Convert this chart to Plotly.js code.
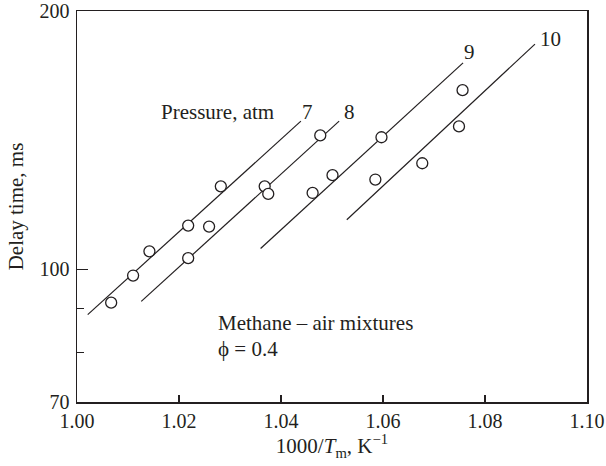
<!DOCTYPE html>
<html>
<head>
<meta charset="utf-8">
<script src="https://cdn.plot.ly/plotly-3.0.1.min.js"></script>
<style>html,body{margin:0;padding:0;background:#fff;}#chart{width:606px;height:466px;}</style>
</head>
<body>
<div id="chart"></div>
<script>
// Measured data points (1000/Tm, delay time ms)
const pointX = [1.0067, 1.0110, 1.0142, 1.0218, 1.0218, 1.0259, 1.0282, 1.0368, 1.0375, 1.0477, 1.0462, 1.0501, 1.0597, 1.0585, 1.0677, 1.0749, 1.0756];
const pointY = [91.4, 98.3, 104.9, 112.4, 103.0, 112.1, 124.9, 124.9, 122.4, 143.2, 122.7, 128.7, 142.5, 127.2, 132.9, 146.7, 161.7];

// Correlation lines for each pressure (atm)
const pressures = ['7', '8', '9', '10'];
const line7X = [1.0021, 1.0439];  const line7Y = [88.5, 148.8];
const line8X = [1.0126, 1.0514];  const line8Y = [91.7, 148.8];
const line9X = [1.0360, 1.0757];  const line9Y = [105.7, 174.0];
const line10X = [1.0529, 1.0898]; const line10Y = [114.2, 183.0];

const xTicks = [1.00, 1.02, 1.04, 1.06, 1.08, 1.10];
const yTicks = [70, 100, 200];
const yMinorTicks = [80, 90];

const ink = '#231f20';
const font = {family: 'Liberation Serif, Times New Roman, serif', size: 21, color: ink};
const tickFont = {family: 'Liberation Serif, Times New Roman, serif', size: 20, color: ink};

const lineSets = [[line7X, line7Y], [line8X, line8Y], [line9X, line9Y], [line10X, line10Y]];
const traces = lineSets.map((s, i) => ({
  x: s[0], y: s[1], type: 'scatter', mode: 'lines',
  line: {color: ink, width: 1.2}, name: pressures[i] + ' atm', hoverinfo: 'skip'
}));
traces.push({
  x: pointX, y: pointY, type: 'scatter', mode: 'markers',
  marker: {symbol: 'circle', size: 11, color: '#ffffff', line: {color: ink, width: 1.3}},
  name: 'data'
});

const labelPos = [[1.0451, 152.5], [1.0535, 152.5], [1.0769, 179.2], [1.0928, 185.3]];
const annotations = pressures.map((p, i) => ({
  x: labelPos[i][0], y: Math.log10(labelPos[i][1]), xref: 'x', yref: 'y',
  text: p, showarrow: false, font: font, xanchor: 'center', yanchor: 'middle'
}));
annotations.push(
  {x: 1.0276, y: Math.log10(152.7), xref: 'x', yref: 'y', text: 'Pressure, atm', showarrow: false, font: font, xanchor: 'center', yanchor: 'middle'},
  {x: 1.0273, y: Math.log10(86.6), xref: 'x', yref: 'y', text: 'Methane – air mixtures', showarrow: false, font: font, xanchor: 'left', yanchor: 'middle'},
  {x: 1.0273, y: Math.log10(80.6), xref: 'x', yref: 'y', text: 'ϕ = 0.4', showarrow: false, font: font, xanchor: 'left', yanchor: 'middle'}
);

const layout = {
  width: 606, height: 466,
  margin: {l: 77, r: 19, t: 11, b: 64},
  paper_bgcolor: '#ffffff', plot_bgcolor: '#ffffff',
  showlegend: false,
  font: font,
  xaxis: {
    range: [1.00, 1.10], tickvals: xTicks, tickformat: '.2f',
    ticks: 'inside', ticklen: 7, tickwidth: 1.2, tickcolor: ink,
    showline: true, linecolor: ink, linewidth: 1.5, mirror: true,
    showgrid: false, zeroline: false, tickfont: tickFont, ticklabelstandoff: 0,
    title: {text: '1000/<i>T</i><sub>m</sub>, K<sup>−1</sup>', font: font, standoff: 4}
  },
  yaxis: {
    type: 'log', range: [Math.log10(70), Math.log10(200)],
    tickvals: yTicks, ticktext: yTicks.map(String),
    ticks: 'inside', ticklen: 11, tickwidth: 1.2, tickcolor: ink,
    minor: {tickvals: yMinorTicks, ticks: 'inside', ticklen: 7, tickwidth: 1.2, tickcolor: ink, showgrid: false},
    showline: true, linecolor: ink, linewidth: 1.5, mirror: true,
    showgrid: false, zeroline: false, tickfont: tickFont, ticklabelstandoff: 2,
    title: {text: 'Delay time, ms', font: font, standoff: 10}
  },
  annotations: annotations
};

Plotly.newPlot('chart', traces, layout, {displayModeBar: false, staticPlot: true});
</script>
</body>
</html>
